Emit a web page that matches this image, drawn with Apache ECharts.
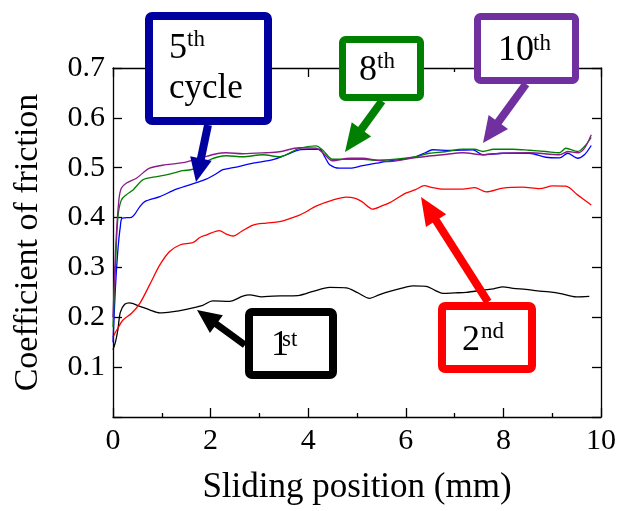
<!DOCTYPE html>
<html>
<head>
<meta charset="utf-8">
<script src="https://cdn.jsdelivr.net/npm/echarts@6/dist/echarts.min.js"></script>
<style>
html,body{margin:0;padding:0;background:#fff;}
#chart{width:619px;height:511px;}
</style>
</head>
<body>
<div id="chart"></div>
<script>
// ---- data (sliding position mm, coefficient of friction) ----
const cycle1 = [[0,0.135],[0.05,0.15],[0.1,0.175],[0.15,0.21],[0.24,0.226],[0.34,0.229],[0.55,0.222],[0.75,0.215],[0.96,0.209],[1.2,0.211],[1.5,0.216],[1.84,0.224],[2.04,0.233],[2.39,0.232],[2.66,0.2425],[2.8,0.245],[3.05,0.241],[3.28,0.2425],[3.55,0.243],[3.82,0.244],[4.1,0.252],[4.44,0.26],[4.78,0.259],[5.0,0.25],[5.26,0.238],[5.45,0.245],[5.67,0.252],[5.9,0.258],[6.14,0.263],[6.42,0.262],[6.6,0.254],[6.76,0.248],[7.0,0.249],[7.24,0.25],[7.58,0.2546],[7.8,0.257],[7.99,0.261],[8.2,0.258],[8.46,0.256],[8.7,0.253],[8.94,0.251],[9.2,0.247],[9.49,0.241],[9.76,0.242]];
const cycle2 = [[0,0.16],[0.05,0.17],[0.1,0.178],[0.2,0.194],[0.38,0.208],[0.55,0.228],[0.75,0.265],[0.96,0.305],[1.16,0.332],[1.37,0.345],[1.64,0.35],[1.78,0.36],[1.91,0.365],[2.18,0.374],[2.32,0.367],[2.46,0.363],[2.63,0.372],[2.87,0.385],[3.14,0.389],[3.41,0.392],[3.62,0.398],[3.82,0.405],[4.0,0.414],[4.16,0.423],[4.5,0.435],[4.78,0.441],[4.95,0.439],[5.1,0.432],[5.32,0.417],[5.5,0.423],[5.67,0.43],[6.0,0.449],[6.2,0.456],[6.38,0.464],[6.55,0.46],[6.76,0.457],[7.17,0.457],[7.41,0.46],[7.65,0.4515],[7.99,0.459],[8.39,0.461],[8.74,0.458],[9.01,0.4636],[9.28,0.463],[9.52,0.4455],[9.8,0.4254]];
const cycle5 = [[0,0.15],[0.05,0.26],[0.1,0.335],[0.15,0.382],[0.19,0.399],[0.38,0.4006],[0.55,0.422],[0.65,0.432],[0.96,0.442],[1.3,0.457],[1.71,0.47],[1.91,0.477],[2.1,0.487],[2.25,0.496],[2.46,0.5],[2.87,0.509],[3.28,0.516],[3.55,0.526],[3.82,0.536],[4.0,0.537],[4.23,0.537],[4.35,0.52],[4.44,0.506],[4.64,0.499],[4.85,0.499],[5.12,0.504],[5.4,0.509],[5.67,0.5137],[6.0,0.518],[6.21,0.522],[6.4,0.53],[6.55,0.536],[6.89,0.5345],[7.37,0.536],[7.58,0.526],[7.99,0.529],[8.53,0.529],[8.87,0.521],[9.15,0.5198],[9.32,0.529],[9.52,0.519],[9.66,0.526],[9.8,0.5445]];
const cycle8 = [[0,0.18],[0.05,0.3],[0.1,0.4],[0.17,0.435],[0.27,0.4455],[0.41,0.4555],[0.61,0.4756],[0.82,0.481],[1.09,0.4856],[1.43,0.494],[1.64,0.497],[1.98,0.516],[2.32,0.524],[2.66,0.522],[3.07,0.526],[3.41,0.522],[3.82,0.539],[4.16,0.544],[4.3,0.535],[4.5,0.517],[4.78,0.517],[5.12,0.517],[5.4,0.515],[5.67,0.516],[6.21,0.522],[6.48,0.529],[6.8,0.532],[7.17,0.537],[7.41,0.537],[7.58,0.5325],[7.8,0.537],[8.19,0.537],[8.53,0.535],[8.87,0.5325],[9.15,0.53],[9.28,0.539],[9.52,0.5325],[9.66,0.5425],[9.8,0.5606]];
const cycle10 = [[0,0.2],[0.06,0.35],[0.12,0.435],[0.17,0.459],[0.27,0.469],[0.48,0.479],[0.75,0.499],[1.09,0.506],[1.43,0.51],[1.78,0.519],[2.12,0.528],[2.32,0.53],[2.66,0.528],[3.14,0.53],[3.41,0.532],[3.82,0.54],[4.16,0.539],[4.3,0.53],[4.5,0.514],[4.85,0.519],[5.12,0.519],[5.4,0.515],[5.67,0.5124],[6.21,0.5204],[6.76,0.526],[7.17,0.53],[7.58,0.526],[7.99,0.529],[8.53,0.53],[9.15,0.526],[9.32,0.5325],[9.52,0.53],[9.66,0.539],[9.8,0.566]];

const xTicks = [0, 2, 4, 6, 8, 10];
const yTicks = [0.1, 0.2, 0.3, 0.4, 0.5, 0.6, 0.7];

const FONT = '"Liberation Serif", "Times New Roman", serif';
const chart = echarts.init(document.getElementById('chart'));

function axisCommon(){
  return {
    axisLine:{show:true,onZero:false,lineStyle:{color:'#000',width:1.3}},
    axisTick:{show:true,inside:true,length:9,lineStyle:{color:'#000',width:1.3}},
    splitLine:{show:false}
  };
}

// annotation helpers (pixel layout)
function arrow(tail, tip, headLen, halfW, width, color){
  const dx = tip[0]-tail[0], dy = tip[1]-tail[1];
  const L = Math.hypot(dx,dy), ux = dx/L, uy = dy/L;
  const bx = tip[0]-ux*headLen, by = tip[1]-uy*headLen;
  const px = -uy, py = ux;
  return [
    {type:'line', z:100, shape:{x1:tail[0],y1:tail[1],x2:bx+ux*2,y2:by+uy*2}, style:{stroke:color,lineWidth:width,lineCap:'butt'}},
    {type:'polygon', z:100, shape:{points:[[tip[0],tip[1]],[bx+px*halfW,by+py*halfW],[bx-px*halfW,by-py*halfW]]}, style:{fill:color}}
  ];
}
function box(x,y,w,h,lw,color){
  return {type:'rect', z:101, shape:{x:x,y:y,width:w,height:h,r:3}, style:{fill:'#fff',stroke:color,lineWidth:lw}};
}
function txt(s,left,baseline,fs){
  return {type:'text', z:102, style:{text:s,x:left,y:baseline-0.34*fs,font:fs+'px '+FONT,fill:'#000',align:'left',verticalAlign:'middle'}};
}

const blueBox='#0000a0', greenBox='#008000', purpleBox='#7030a0', redBox='#ff0000', blackBox='#000000';

const graphics = [].concat(
  arrow([208,125],[196,182],24,11,8,blueBox),
  [box(149,16,119,105,8,blueBox), txt('5',169,61,36), txt('th',187,48,23), txt('cycle',169,101,35)],
  arrow([382,101],[345,152],28,12,8,greenBox),
  [box(342.5,39.5,78,58,7,greenBox), txt('8',359,83,36), txt('th',377,70,23)],
  arrow([526,84],[483,143],26,12,8,purpleBox),
  [box(477.5,16.5,98,64,7,purpleBox), txt('10',498,63,36), txt('th',533,52,23)],
  arrow([245,345],[197,310],24,11,7,blackBox),
  [box(249,312,84,63,8,blackBox), txt('1',271,358,36), txt('st',282,348,23)],
  arrow([488,302],[421,197],28,12,8,redBox),
  [box(442,306,90,63,8,redBox), txt('2',462,353,36), txt('nd',481,340,23)]
);

function line(data,color){
  return {type:'line',data:data,showSymbol:false,symbol:'none',smooth:0.3,
    lineStyle:{color:color,width:1.3},itemStyle:{color:color},xAxisIndex:0,yAxisIndex:0,z:5};
}

const option = {
  animation:false,
  backgroundColor:'#fff',
  grid:{left:113,right:17,top:68,bottom:94,containLabel:false},
  xAxis:[
    Object.assign(axisCommon(),{
      type:'value',min:xTicks[0],max:xTicks[xTicks.length-1],interval:2,position:'bottom',
      minorTick:{show:true,splitNumber:2,length:4,lineStyle:{color:'#000',width:1.3}},
      minorSplitLine:{show:false},
      axisLabel:{show:true,fontSize:30,fontFamily:FONT,color:'#000',margin:9},
      name:'Sliding position (mm)',nameLocation:'middle',nameGap:53,
      nameTextStyle:{fontSize:35,fontFamily:FONT,color:'#000'}
    }),
    Object.assign(axisCommon(),{
      type:'value',min:xTicks[0],max:xTicks[xTicks.length-1],interval:2,position:'top',
      minorTick:{show:true,splitNumber:2,length:4,lineStyle:{color:'#000',width:1.3}},
      axisLabel:{show:false}
    })
  ],
  yAxis:[
    Object.assign(axisCommon(),{
      type:'value',min:0,max:yTicks[yTicks.length-1],interval:0.1,position:'left',
      axisLabel:{show:true,fontSize:30,fontFamily:FONT,color:'#000',margin:8,
        formatter:function(v){ return yTicks.some(t=>Math.abs(t-v)<1e-9) ? v.toFixed(1) : ''; }},
      name:'Coefficient of friction',nameLocation:'middle',nameGap:68,
      nameTextStyle:{fontSize:34,fontFamily:FONT,color:'#000'}
    }),
    Object.assign(axisCommon(),{
      type:'value',min:0,max:yTicks[yTicks.length-1],interval:0.1,position:'right',
      axisLabel:{show:false}
    })
  ],
  series:[
    line(cycle1,'#000000'),
    line(cycle2,'#ff0000'),
    line(cycle5,'#0000ff'),
    line(cycle8,'#008000'),
    line(cycle10,'#8b1a8b')
  ],
  graphic:graphics
};
chart.setOption(option);
</script>
</body>
</html>
